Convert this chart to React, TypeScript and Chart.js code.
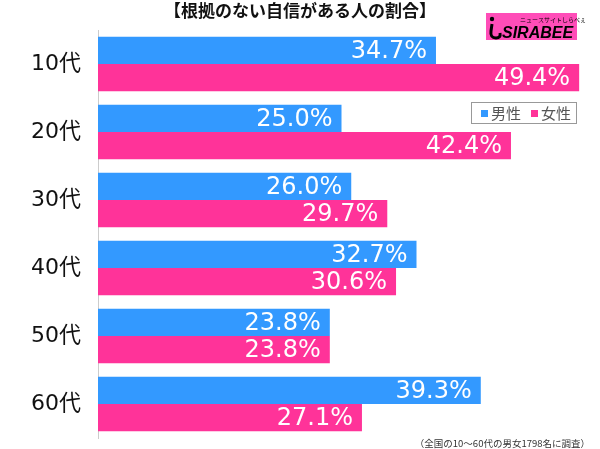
import React, { useEffect, useRef } from "react";
import { Chart, registerables } from "chart.js";

Chart.register(...registerables);

const title = "【根拠のない自信がある人の割合】";
const categories = ["10代", "20代", "30代", "40代", "50代", "60代"];
const seriesNames = ["男性", "女性"];
const maleValues = [34.7, 25.0, 26.0, 32.7, 23.8, 39.3];
const femaleValues = [49.4, 42.4, 29.7, 30.6, 23.8, 27.1];
const footnote = "（全国の10～60代の男女1798名に調査）";
const logoSub = "ニュースサイトしらべぇ";
const logoText = "SIRABEE";

const BLUE = "#3399ff";
const PINK = "#ff3399";
const LOGO_PINK = "#ff4db8";

const decorPlugin = {
  id: "decor",
  afterDatasetsDraw(chart: any) {
    const ctx = chart.ctx;
    ctx.save();
    ctx.fillStyle = "#ffffff";
    ctx.font = '24px "DejaVu Sans", sans-serif';
    ctx.textAlign = "right";
    ctx.textBaseline = "middle";
    chart.data.datasets.forEach((ds: any, di: number) => {
      const meta = chart.getDatasetMeta(di);
      meta.data.forEach((bar: any, i: number) => {
        const v = ds.data[i] as number;
        ctx.fillText(v.toFixed(1) + "%", bar.x - 9, bar.y + 1);
      });
    });
    ctx.restore();
  },
  afterDraw(chart: any) {
    const ctx = chart.ctx;
    ctx.save();
    // title
    ctx.fillStyle = "#111";
    ctx.font = 'bold 17px "Noto Sans CJK JP", sans-serif';
    ctx.textAlign = "center";
    ctx.textBaseline = "middle";
    ctx.fillText(title, 300, 11);

    // logo
    ctx.fillStyle = LOGO_PINK;
    ctx.fillRect(486, 13, 91, 27);
    ctx.fillStyle = "#000";
    ctx.font = 'italic bold 16px "Liberation Sans", sans-serif';
    ctx.textAlign = "left";
    ctx.textBaseline = "alphabetic";
    ctx.fillText(logoText, 502, 38);
    ctx.font = '6px "Noto Sans CJK JP", sans-serif';
    ctx.fillText(logoSub, 520, 22);
    ctx.beginPath();
    ctx.arc(492, 19, 2.2, 0, Math.PI * 2);
    ctx.fill();
    ctx.lineWidth = 3;
    ctx.strokeStyle = "#000";
    ctx.beginPath();
    ctx.moveTo(492, 24);
    ctx.lineTo(491, 31);
    ctx.quadraticCurveTo(490, 38, 496, 38);
    ctx.quadraticCurveTo(501, 38, 500, 33);
    ctx.stroke();

    // legend
    ctx.strokeStyle = "#999";
    ctx.lineWidth = 1;
    ctx.strokeRect(471.5, 102.5, 105, 21);
    ctx.font = '15px "Noto Sans CJK JP", sans-serif';
    ctx.textBaseline = "middle";
    const items = [
      { x: 481, color: BLUE, name: seriesNames[0] },
      { x: 531, color: PINK, name: seriesNames[1] },
    ];
    items.forEach((it) => {
      ctx.fillStyle = it.color;
      ctx.fillRect(it.x, 110, 7, 7);
      ctx.fillStyle = "#555";
      ctx.fillText(it.name, it.x + 10, 113);
    });

    // footnote
    ctx.fillStyle = "#333";
    ctx.font = '9.5px "Noto Sans CJK JP", sans-serif';
    ctx.textAlign = "right";
    ctx.fillText(footnote, 590, 443);
    ctx.restore();
  },
};

export default function App() {
  const ref = useRef<HTMLCanvasElement | null>(null);
  useEffect(() => {
    if (!ref.current) return;
    const chart = new Chart(ref.current, {
      type: "bar",
      data: {
        labels: categories,
        datasets: [
          {
            label: seriesNames[0],
            data: maleValues,
            backgroundColor: BLUE,
            categoryPercentage: 0.8,
            barPercentage: 1,
          },
          {
            label: seriesNames[1],
            data: femaleValues,
            backgroundColor: PINK,
            categoryPercentage: 0.8,
            barPercentage: 1,
          },
        ],
      },
      options: {
        indexAxis: "y",
        animation: false,
        responsive: false,
        maintainAspectRatio: false,
        layout: { padding: { top: 30, bottom: 11, right: 15, left: 0 } },
        plugins: {
          legend: { display: false },
          tooltip: { enabled: false },
          title: { display: false },
        },
        scales: {
          x: {
            display: false,
            min: 0,
            max: 50,
          },
          y: {
            grid: { display: false, drawTicks: false },
            border: { display: true, color: "#cccccc", width: 1 },
            ticks: {
              color: "#111",
              padding: 17,
              font: { size: 22, family: '"DejaVu Sans", "Noto Sans CJK JP", sans-serif' },
            },
            afterFit: (s: any) => {
              s.width = 98;
              s.paddingTop = 0;
              s.paddingBottom = 0;
            },
          },
        },
      },
      plugins: [decorPlugin],
    } as any);
    return () => chart.destroy();
  }, []);
  return (
    <div style={{ position: "absolute", left: 0, top: 0, width: 600, height: 449, background: "#fff" }}>
      <canvas ref={ref} width={600} height={449} style={{ display: "block" }} />
    </div>
  );
}
